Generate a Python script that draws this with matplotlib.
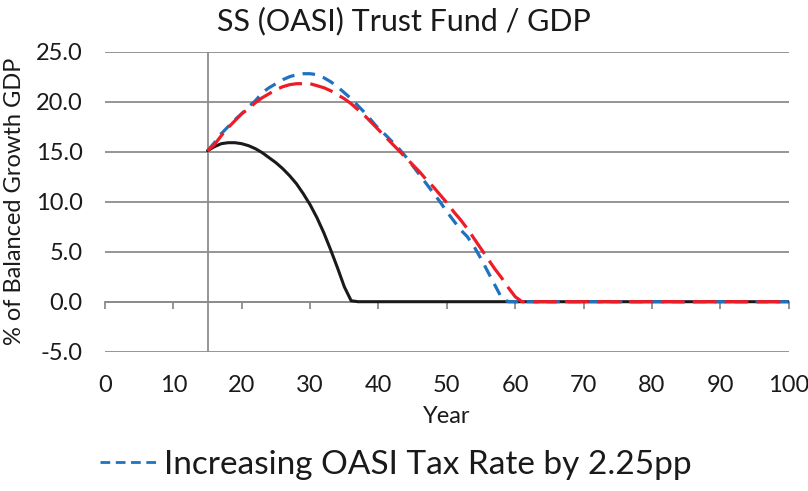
import numpy as np
import matplotlib
matplotlib.use("Agg")
import matplotlib.pyplot as plt
from matplotlib.lines import Line2D

plt.rcParams['font.family'] = ['Lato', 'DejaVu Sans']
plt.rcParams['lines.scale_dashes'] = False

#--------------------------------------------------------------------------------
# Data
#--------------------------------------------------------------------------------

years = np.arange(15, 101)

# current law (solid black)
baseline = [15.1, 15.5, 15.8, 15.9, 15.9, 15.8, 15.6, 15.3, 14.9, 14.4,
            13.9, 13.3, 12.6, 11.8, 10.8, 9.7, 8.4, 6.9, 5.2, 3.4,
            1.5, 0.1]
# tax increase (blue dashed)
tax_rate = [15.1, 15.9, 16.8, 17.5, 18.2, 18.8, 19.5, 20.1, 20.9, 21.4,
            21.8, 22.2, 22.5, 22.7, 22.8, 22.8, 22.7, 22.4, 22.0, 21.5,
            20.9, 20.3, 19.6, 18.9, 18.1, 17.3, 16.7, 16.0, 15.3, 14.5,
            13.6, 12.7, 11.8, 10.9, 10.0, 9.0, 8.1, 7.2, 6.5, 5.5,
            4.3, 3.0, 1.7, 0.4]
# other reform (red dashed)
reform = [15.1, 15.7, 16.6, 17.4, 18.1, 18.8, 19.3, 19.9, 20.4, 20.8,
          21.2, 21.5, 21.7, 21.8, 21.8, 21.8, 21.6, 21.4, 21.1, 20.7,
          20.3, 19.8, 19.2, 18.6, 17.9, 17.2, 16.5, 15.8, 15.1, 14.4,
          13.7, 13.0, 12.2, 11.5, 10.7, 9.9, 9.0, 8.2, 7.3, 6.3,
          5.3, 4.3, 3.3, 2.4, 1.4, 0.5]

def pad(vals):
    # fund stays exhausted (0) for the rest of the horizon
    return np.array(vals + [0.0] * (len(years) - len(vals)))

x_ticks = np.arange(0, 101, 10)
y_ticks = np.arange(-5, 26, 5)

#--------------------------------------------------------------------------------
# Plot
#--------------------------------------------------------------------------------

grid_col = '#8c8c8c'
text_col = '#1a1a1a'

fig = plt.figure(figsize=(8.08, 4.91), dpi=100)
ax = fig.add_axes([0.130, 0.2837, 0.846, 0.611])

ax.set_xlim(0, 100)
ax.set_ylim(-5, 25)

# gridlines
for yv in y_ticks:
    ax.axhline(yv, color=grid_col, lw=1.3, zorder=1)
# vertical axis crossing at year 15
ax.axvline(15, color=grid_col, lw=1.3, zorder=1)

ax.plot(years, pad(baseline), color='#1a1a1a', lw=2.2, zorder=3,
        solid_capstyle='round', solid_joinstyle='round')
ax.plot(years, pad(tax_rate), color='#1f72c0', lw=2.3, zorder=4,
        dashes=(9, 6))
ax.plot(years, pad(reform), color='#ee1c25', lw=2.3, zorder=5,
        dashes=(17, 6))

# x axis line at 0 with tick marks, labels at the bottom
for s in ['top', 'right', 'left']:
    ax.spines[s].set_visible(False)
ax.spines['bottom'].set_position(('data', 0))
ax.spines['bottom'].set_color(grid_col)
ax.spines['bottom'].set_linewidth(1.3)
ax.set_xticks(x_ticks)
ax.tick_params(axis='x', direction='out', length=5, width=1.3, color=grid_col,
               labelbottom=False)

sec = ax.secondary_xaxis('bottom')
sec.spines['bottom'].set_visible(False)
sec.set_xticks(x_ticks)
sec.set_xticklabels([str(v) for v in x_ticks])
sec.tick_params(length=0, pad=17, labelsize=17, labelcolor=text_col)
sec.set_xlabel('Year', fontsize=17, color=text_col, labelpad=7)

ax.set_yticks(y_ticks)
ax.set_yticklabels(['%.1f' % v for v in y_ticks])
ax.tick_params(axis='y', length=0, pad=16, labelsize=17, labelcolor=text_col)
ax.set_ylabel('% of Balanced Growth GDP', fontsize=17, color=text_col, labelpad=8)

fig.text(0.5, 0.958, 'SS (OASI) Trust Fund / GDP', ha='center', va='center',
         fontsize=22, color=text_col)

handle = Line2D([], [], color='#1f72c0', lw=2, dashes=(7, 4))
fig.legend([handle], ['Increasing OASI Tax Rate by 2.25pp'], loc='center',
           bbox_to_anchor=(0.49, 0.053), frameon=False, fontsize=24,
           handlelength=1.75, handletextpad=0.15, labelcolor=text_col)

fig.savefig('out.png', dpi=100)
